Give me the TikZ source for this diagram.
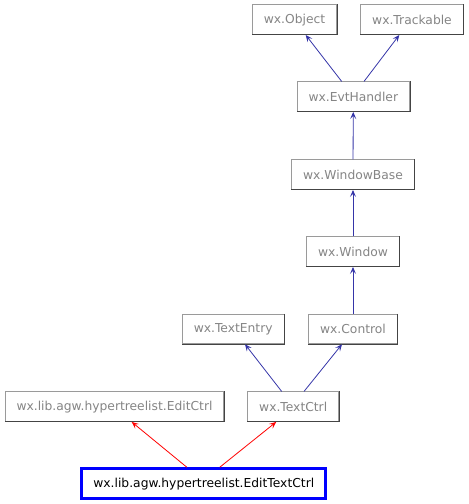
\documentclass[tikz,border=0pt]{standalone}
\usepackage{fontspec}
\setmainfont{DejaVu Sans}
\usetikzlibrary{arrows.meta}
\definecolor{cblue}{HTML}{3535A8}
\definecolor{cred}{HTML}{FF0000}
\definecolor{cgrey}{HTML}{9A9A9A}
\definecolor{cdark}{HTML}{444444}
\definecolor{ctext}{HTML}{858585}
\tikzset{
  every picture/.style={x=1pt, y=-1pt, line width=1pt},
  box/.style={draw=cgrey, fill=white, text=ctext, inner xsep=11.5pt, minimum height=29.5pt,
    font=\fontsize{12.3}{14}\selectfont},
  focus/.style={box, draw=blue, text=black, line width=3pt, minimum height=30pt},
  arrow/.style={-{Stealth[length=7pt, width=6pt, inset=3pt]}, draw=cblue, line width=0.8pt},
  redarrow/.style={arrow, draw=cred},
}
\begin{document}
\begin{tikzpicture}
  \useasboundingbox (0,0) rectangle (469,504);
  % classes, one row per level
  \node[box] (obj) at (294.5,19.7) {wx.Object};
  \node[box] (track) at (412,19.7) {wx.Trackable};
  \node[box] (evt) at (353.3,96.7) {wx.EvtHandler};
  \node[box] (wbase) at (353,174.7) {wx.WindowBase};
  \node[box] (win) at (353,251.7) {wx.Window};
  \node[box] (tentry) at (233.2,329) {wx.TextEntry};
  \node[box] (ctrl) at (353,329) {wx.Control};
  \node[box] (editctrl) at (114.5,406.7) {wx.lib.agw.hypertreelist.EditCtrl};
  \node[box] (tctrl) at (293.2,406.7) {wx.TextCtrl};
  \node[focus] (edittext) at (203.8,483.7) {wx.lib.agw.hypertreelist.EditTextCtrl};
  % darker right and bottom edges
  \foreach \n in {obj,track,evt,wbase,win,tentry,ctrl,editctrl,tctrl}
    \draw[cdark] (\n.north east) -- (\n.south east) -- (\n.south west);
  % inheritance
  \draw[arrow] ([xshift=-11.6pt]evt.north) -- ([xshift=11.2pt]obj.south);
  \draw[arrow] ([xshift=10.7pt]evt.north) -- ([xshift=-12.7pt]track.south);
  \draw[arrow] (wbase) -- (evt);
  \draw[arrow] (win) -- (wbase);
  \draw[arrow] (ctrl) -- (win);
  \draw[arrow] ([xshift=-11.5pt]tctrl.north) -- ([xshift=11.8pt]tentry.south);
  \draw[arrow] ([xshift=10.8pt]tctrl.north) -- ([xshift=-11pt]ctrl.south);
  \draw[redarrow] ([xshift=-17pt]edittext.north) -- ([xshift=17.2pt]editctrl.south);
  \draw[redarrow] ([xshift=16pt]edittext.north) -- ([xshift=-17pt]tctrl.south);
\end{tikzpicture}
\end{document}
